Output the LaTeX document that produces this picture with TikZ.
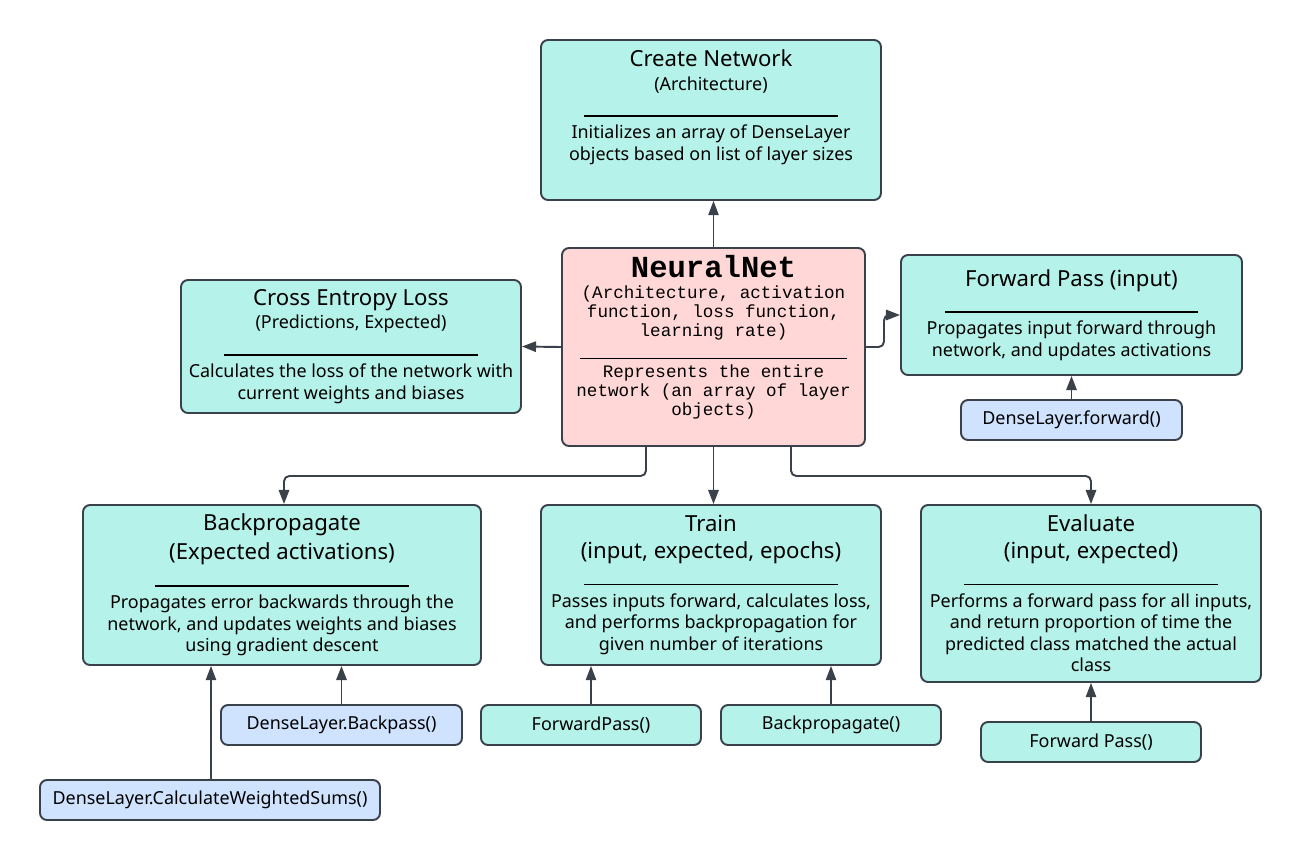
\documentclass[tikz,border=0pt]{standalone}
\usepackage{fontspec}
\setmainfont{Noto Sans}
\setmonofont{Liberation Mono}
\usetikzlibrary{arrows.meta}

\definecolor{mint}{HTML}{B5F3EA}
\definecolor{rose}{HTML}{FFD7D7}
\definecolor{sky}{HTML}{CFE3FF}
\definecolor{edge}{HTML}{3A414A}

\newcommand{\bodyfont}{\fontsize{10.2}{12.3}\selectfont}
\newcommand{\headfont}{\fontsize{12.6}{15.4}\selectfont}
\newcommand{\codefont}{\ttfamily\fontsize{10}{10.8}\selectfont}
\newcommand{\sepline}{\rule{144pt}{1.1pt}}

\begin{document}
\begin{tikzpicture}[
    box/.style={rectangle, draw=edge, fill=mint, line width=1.1pt, rounded corners=4pt, align=center, font=\bodyfont, inner sep=0pt},
    callbox/.style={box, minimum width=4.4cm, minimum height=0.8cm},
    arrow/.style={-{Triangle[width=5.9pt,length=8pt]}, line width=1.1pt, draw=edge, rounded corners=3pt},
    thinarrow/.style={arrow, line width=0.6pt}
]
\useasboundingbox (0,0) rectangle (26.04,-17.2);

% Classe centrale
\node[box, fill=rose, font=\codefont, minimum width=6.06cm, minimum height=3.96cm] (net) at (14.27,-6.94)
  {{\fontsize{17.4}{19}\selectfont\bfseries NeuralNet}\\[1pt]
   (Architecture, activation\\ function, loss function,\\ learning rate)\\[2pt]
   \rule{152pt}{0.6pt}\\
   Represents the entire\\ network (an array of layer\\ objects)\rule[-13pt]{0pt}{13pt}};

% Metodi
\node[box, minimum width=6.8cm, minimum height=3.2cm] (create) at (14.22,-2.4)
  {{\headfont Create Network}\\[1pt] (Architecture)\\[3pt] \sepline\\
   Initializes an array of DenseLayer\\ objects based on list of layer sizes\rule[-17pt]{0pt}{17pt}};
\node[box, minimum width=6.8cm, minimum height=2.66cm] (loss) at (7.02,-6.93)
  {{\headfont Cross Entropy Loss}\\[1pt] (Predictions, Expected)\\[3pt] \sepline\\
   Calculates the loss of the network with\\ current weights and biases};
\node[box, minimum width=6.82cm, minimum height=2.4cm] (fwd) at (21.43,-6.3)
  {{\headfont Forward Pass (input)}\\[3pt] \sepline\\
   Propagates input forward through\\ network, and updates activations};
\node[box, minimum width=7.96cm, minimum height=3.2cm] (backprop) at (5.64,-11.7)
  {{\headfont Backpropagate}\\[3pt] {\headfont (Expected activations)}\\[3pt] \sepline\\
   Propagates error backwards through the\\ network, and updates weights and biases\\ using gradient descent};
\node[box, minimum width=6.8cm, minimum height=3.2cm] (train) at (14.22,-11.7)
  {{\headfont Train}\\[3pt] {\headfont (input, expected, epochs)}\\[3pt] \sepline\\
   Passes inputs forward, calculates loss,\\ and performs backpropagation for\\ given number of iterations};
\node[box, minimum width=6.8cm, minimum height=3.54cm] (evalbox) at (21.82,-11.87)
  {{\headfont Evaluate}\\[3pt] {\headfont (input, expected)}\\[3pt] \sepline\\
   Performs a forward pass for all inputs,\\ and return proportion of time the\\ predicted class matched the actual\\ class};

% Chiamate
\node[callbox, fill=sky, minimum width=4.42cm] (fwdcall) at (21.43,-8.4) {DenseLayer.forward()};
\node[callbox, fill=sky, minimum width=4.82cm] (backpass) at (6.83,-14.5) {DenseLayer.Backpass()};
\node[callbox, fill=sky, minimum width=6.8cm] (sums) at (4.2,-16) {DenseLayer.CalculateWeightedSums()};
\node[callbox] (fpcall) at (11.82,-14.5) {ForwardPass()};
\node[callbox] (bpcall) at (16.62,-14.5) {Backpropagate()};
\node[callbox] (evfp) at (21.82,-14.84) {Forward Pass()};

% Connessioni
\draw[thinarrow] (net.north) -- (net.north |- create.south);
\draw[arrow] (net.west) -- (loss.east);
\draw[arrow] (net.east) -- ++(0.36cm,0) |- (fwd.west);
\draw[arrow] ([xshift=-1.35cm]net.south) -- ++(0,-0.58cm) -| ([xshift=0.04cm]backprop.north);
\draw[arrow] (net.south) -- (net.south |- train.north);
\draw[arrow] ([xshift=1.55cm]net.south) -- ++(0,-0.58cm) -| (evalbox.north);
\draw[arrow] (fwdcall) -- (fwd);
\draw[arrow] (backpass.north) -- (backpass.north |- backprop.south);
\draw[thinarrow] ([xshift=0.02cm]sums.north) -- ([xshift=0.02cm]sums.north |- backprop.south);
\draw[thinarrow] (fpcall.north) -- (fpcall.north |- train.south);
\draw[thinarrow] (bpcall.north) -- (bpcall.north |- train.south);
\draw[thinarrow] (evfp) -- (evalbox);

\end{tikzpicture}
\end{document}
